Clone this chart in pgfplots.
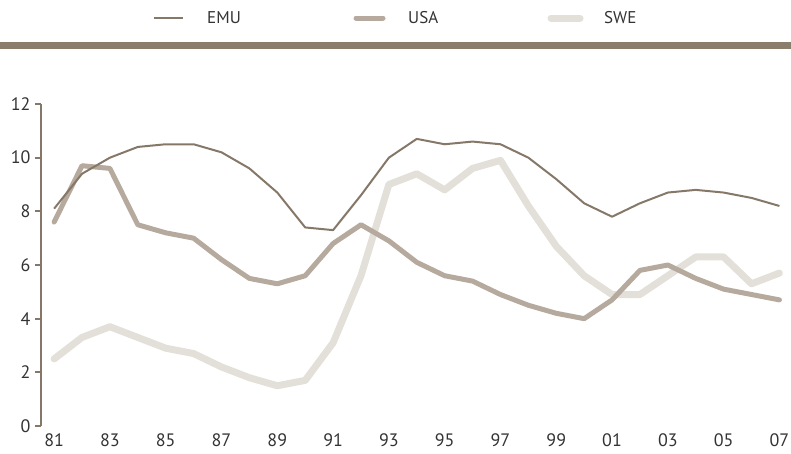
\documentclass[border=0pt]{standalone}
\usepackage{fontspec}
\setmainfont{PT Sans}
\usepackage{pgfplots}
\pgfplotsset{compat=1.18}
\definecolor{emu}{HTML}{857868}
\definecolor{usa}{HTML}{B5AA9D}
\definecolor{swe}{HTML}{E3E0DA}
\definecolor{topbar}{HTML}{8B7D6B}
\definecolor{axiscol}{HTML}{857868}
\definecolor{txt}{HTML}{333333}
\begin{document}
\begin{tikzpicture}[x=1pt,y=1pt]
\useasboundingbox (0,0) rectangle (791,-453);
\fill[topbar] (0,-42) rectangle (791,-49);
\begin{scope}[font=\fontsize{17}{17}\selectfont, text=txt]
\draw[emu, line width=2pt] (154,-18) -- (183,-18);
\node[anchor=west, inner sep=0pt] at (207,-18) {EMU};
\draw[usa, line width=5pt, line cap=round] (356,-18) -- (383,-18);
\node[anchor=west, inner sep=0pt] at (408,-18) {USA};
\draw[swe, line width=7pt, line cap=round] (551,-18) -- (580,-18);
\node[anchor=west, inner sep=0pt] at (604,-18) {SWE};
\end{scope}
\begin{axis}[at={(41pt,-426pt)}, anchor=south west, scale only axis,
  width=744pt, height=322pt,
  xmin=80.53, xmax=107.2, ymin=0, ymax=12,
  axis x line=bottom, axis y line=left,
  axis line style={-, draw=axiscol, line width=2pt},
  x axis line style={draw=none},
  xtick={81,83,...,107},
  xticklabels={81,83,85,87,89,91,93,95,97,99,01,03,05,07},
  ytick={0,2,...,12},
  x tick style={draw=none},
  y tick style={draw=axiscol, line width=2pt},
  tick align=outside, major tick length=6pt,
  tick label style={font=\fontsize{18}{18}\selectfont, text=txt},
  /pgf/number format/assume math mode=true,
  xticklabel style={yshift=2pt},
  yticklabel style={xshift=-1pt},
  clip=false,
  line join=round,
]
\addplot[swe, line width=7pt, line cap=round] coordinates {
(81,2.5)(82,3.3)(83,3.7)(84,3.3)(85,2.9)(86,2.7)(87,2.2)(88,1.8)(89,1.5)(90,1.7)
(91,3.1)(92,5.6)(93,9.0)(94,9.4)(95,8.8)(96,9.6)(97,9.9)(98,8.2)(99,6.7)(100,5.6)
(101,4.9)(102,4.9)(103,5.6)(104,6.3)(105,6.3)(106,5.3)(107,5.7)};
\addplot[usa, line width=5pt, line cap=round] coordinates {
(81,7.6)(82,9.7)(83,9.6)(84,7.5)(85,7.2)(86,7.0)(87,6.2)(88,5.5)(89,5.3)(90,5.6)
(91,6.8)(92,7.5)(93,6.9)(94,6.1)(95,5.6)(96,5.4)(97,4.9)(98,4.5)(99,4.2)(100,4.0)
(101,4.7)(102,5.8)(103,6.0)(104,5.5)(105,5.1)(106,4.9)(107,4.7)};
\addplot[emu, line width=2pt] coordinates {
(81,8.1)(82,9.4)(83,10.0)(84,10.4)(85,10.5)(86,10.5)(87,10.2)(88,9.6)(89,8.7)(90,7.4)
(91,7.3)(92,8.6)(93,10.0)(94,10.7)(95,10.5)(96,10.6)(97,10.5)(98,10.0)(99,9.2)(100,8.3)
(101,7.8)(102,8.3)(103,8.7)(104,8.8)(105,8.7)(106,8.5)(107,8.2)};
\end{axis}
\end{tikzpicture}
\end{document}
